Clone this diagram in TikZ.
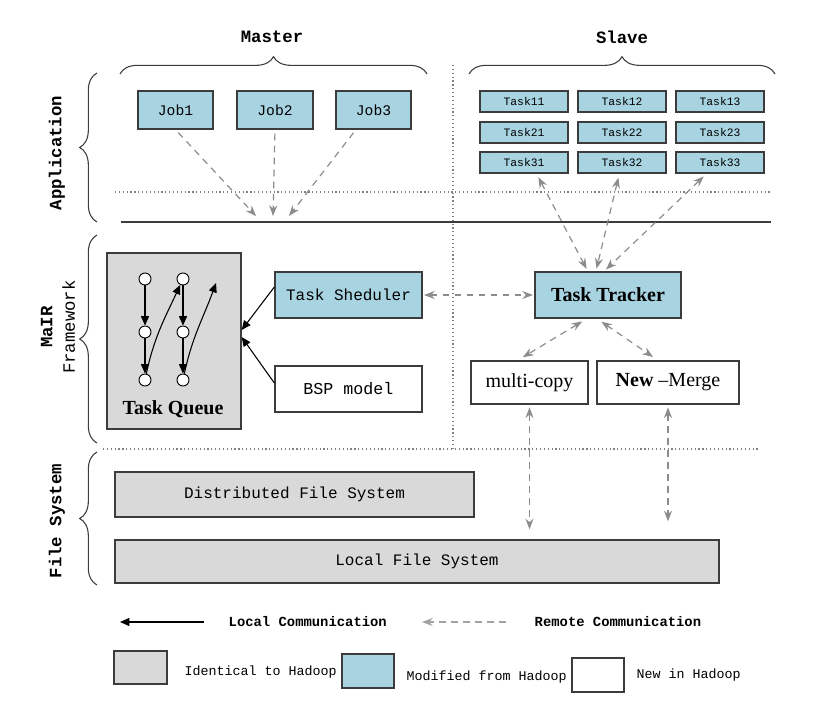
\documentclass[tikz,border=0pt]{standalone}
\usepackage{fontspec}
\setmainfont{Liberation Serif}
\setmonofont{Liberation Mono}
\usetikzlibrary{fit,calc,arrows.meta,decorations.pathreplacing}
\definecolor{ltblue}{RGB}{168,212,226}
\definecolor{ltgray}{RGB}{217,217,217}
\definecolor{edge}{RGB}{60,60,60}
\definecolor{rgray}{RGB}{140,140,140}
\begin{document}
\begin{tikzpicture}[x=0.75pt,y=-0.75pt,
  box/.style={draw=edge,line width=1pt,inner sep=0pt},
  bluebox/.style={box,fill=ltblue},
  graybox/.style={box,fill=ltgray},
  whitebox/.style={box,fill=white},
  mono/.style={font=\ttfamily\fontsize{#1}{#1}\selectfont},
  serif/.style={font=\rmfamily\fontsize{#1}{#1}\selectfont},
  remote/.style={draw=rgray,line width=0.9pt,dash pattern=on 5pt off 4pt,
     {Stealth[length=8pt,width=6pt]}-{Stealth[length=8pt,width=6pt]}},
  remoteone/.style={draw=rgray,line width=0.9pt,dash pattern=on 5pt off 4pt,
     -{Stealth[length=8pt,width=6pt]}},
  local/.style={draw=black,line width=0.8pt,-{Triangle[length=7pt,width=6pt]}},
  brc/.style={decorate,decoration={brace,amplitude=13pt},draw=edge,line width=0.8pt},
  sepline/.style={draw=gray,line width=0.9pt,dotted},
  circ/.style={circle,draw=black,fill=white,line width=0.7pt,minimum size=9pt,inner sep=0pt}]
\useasboundingbox (0,0) rectangle (816,721);

% headings and braces
\node[font=\ttfamily\bfseries\fontsize{13}{13}\selectfont] (master) at (272,37) {Master};
\node[font=\ttfamily\bfseries\fontsize{13}{13}\selectfont] (slave) at (622,37) {Slave};
\draw[brc] (120,74) -- (427,74);
\draw[brc] (469,74) -- (775,74);
\draw[brc] (97,222) -- (97,73);
\draw[brc] (97,443) -- (97,235);
\draw[brc] (97,585) -- (97,452);
\node[rotate=90,font=\ttfamily\bfseries\fontsize{13}{13}\selectfont] (app) at (57,153) {Application};
\node[rotate=90,align=center,font=\ttfamily\fontsize{13}{15}\selectfont] (fw) at (58,327) {\textbf{MaIR}\\[2pt]Framework};
\node[rotate=90,font=\ttfamily\bfseries\fontsize{13}{13}\selectfont] (fsys) at (57,521) {File System};

% separators
\draw[sepline] (453,65) -- (453,449);
\draw[sepline] (115,192) -- (771,192);
\draw[sepline] (103,449) -- (760,449);
\draw[draw=edge,line width=1.5pt] (121,222) -- (771,222);

% jobs
\node[bluebox,fit={(138,91)(213,129)},label={[mono=11]center:Job1}] (job1) {};
\node[bluebox,fit={(237,91)(313,129)},label={[mono=11]center:Job2}] (job2) {};
\node[bluebox,fit={(336,91)(411,129)},label={[mono=11]center:Job3}] (job3) {};

% tasks
\node[bluebox,fit={(480,91)(568,112)},label={[mono=8.5]center:Task11}] (t11) {};
\node[bluebox,fit={(578,91)(666,112)},label={[mono=8.5]center:Task12}] (t12) {};
\node[bluebox,fit={(676,91)(764,112)},label={[mono=8.5]center:Task13}] (t13) {};
\node[bluebox,fit={(480,122)(568,143)},label={[mono=8.5]center:Task21}] (t21) {};
\node[bluebox,fit={(578,122)(666,143)},label={[mono=8.5]center:Task22}] (t22) {};
\node[bluebox,fit={(676,122)(764,143)},label={[mono=8.5]center:Task23}] (t23) {};
\node[bluebox,fit={(480,152)(568,173)},label={[mono=8.5]center:Task31}] (t31) {};
\node[bluebox,fit={(578,152)(666,173)},label={[mono=8.5]center:Task32}] (t32) {};
\node[bluebox,fit={(676,152)(764,173)},label={[mono=8.5]center:Task33}] (t33) {};

% framework boxes
\node[graybox,fit={(107,253)(241,429)}] (tq) {};
\node[font=\rmfamily\bfseries\fontsize{15}{15}\selectfont] (tqlabel) at (173,409) {Task Queue};
\node[bluebox,fit={(275,272)(422,318)},label={[mono=12]center:Task Sheduler}] (ts) {};
\node[whitebox,fit={(275,366)(422,412)},label={[mono=12.5]center:BSP model}] (bsp) {};
\node[bluebox,fit={(535,272)(681,318)},label={[font=\rmfamily\bfseries\fontsize{15}{15}\selectfont]center:Task Tracker}] (tt) {};
\node[whitebox,fit={(471,361)(588,404)},label={[serif=15]center:multi-copy}] (mc) {};
\node[whitebox,fit={(597,361)(739,404)},label={[serif=15]center:{\textbf{New} --Merge}}] (nm) {};

% circles in the task queue
\node[circ] (c11) at (145,279) {};
\node[circ] (c12) at (145,332) {};
\node[circ] (c13) at (145,380) {};
\node[circ] (c21) at (183,279) {};
\node[circ] (c22) at (183,332) {};
\node[circ] (c23) at (183,380) {};
\coordinate (q) at (216,283);
\draw[local] (c11) -- (c12);
\draw[local] (c12) -- (c13);
\draw[local] (c21) -- (c22);
\draw[local] (c22) -- (c23);
\draw[local] (c13) to[out=78,in=245] (c21);
\draw[local] (c23) to[out=78,in=250] (q);

% file systems
\node[graybox,fit={(115,472)(474,517)},label={[mono=12]center:Distributed File System}] (dfs) {};
\node[graybox,fit={(115,540)(719,583)},label={[mono=12]center:Local File System}] (lfs) {};

% job arrows
\coordinate (b1) at (256,216);
\coordinate (b2) at (273,216);
\coordinate (b3) at (289,216);
\draw[remoteone,shorten <=3pt] (job1.south) -- (b1);
\draw[remoteone,shorten <=3pt] (job2.south) -- (b2);
\draw[remoteone,shorten <=3pt] ($(job3.south west)!0.27!(job3.south east)$) -- (b3);

% task <-> task tracker
\draw[remote,shorten <=3pt,shorten >=2pt] ($(t31.south west)!0.64!(t31.south east)$) -- ($(tt.north west)!0.363!(tt.north east)$);
\draw[remote,shorten <=3pt,shorten >=2pt] ($(t32.south west)!0.47!(t32.south east)$) -- ($(tt.north west)!0.418!(tt.north east)$);
\draw[remote,shorten <=3pt,shorten >=2pt] ($(t33.south west)!0.35!(t33.south east)$) -- ($(tt.north west)!0.473!(tt.north east)$);

% scheduler / tracker
\draw[remote,shorten <=1pt,shorten >=1pt] (ts.east) -- (tt.west);
\draw[local] ($(ts.west)+(0,-8)$) -- ($(tq.east)+(0,-11)$);
\draw[local] ($(bsp.west)+(0,-6)$) -- ($(tq.east)+(0,-4)$);

% tracker <-> multi-copy / new-merge
\draw[remote,shorten <=4pt,shorten >=4.5pt] ($(tt.south west)!0.356!(tt.south east)$) -- ($(mc.north west)!0.4!(mc.north east)$);
\draw[remote,shorten <=4pt,shorten >=4.5pt] ($(tt.south west)!0.425!(tt.south east)$) -- ($(nm.north west)!0.43!(nm.north east)$);

% to local file system
\draw[remote,shorten <=2pt,shorten >=7.5pt] (mc.south) -- (mc.south |- lfs.north);
\draw[remote,shorten <=2pt,shorten >=13.5pt] (nm.south) -- (nm.south |- lfs.north);

% legend
\coordinate (l1) at (204,622);
\coordinate (l0) at (120,622);
\draw[local,line width=1pt] (l1) -- (l0);
\node[anchor=west,font=\ttfamily\bfseries\fontsize{10.4}{10.4}\selectfont] (lc) at (224,622) {Local Communication};
\coordinate (r1) at (506,622);
\coordinate (r0) at (422,622);
\draw[remoteone,draw=rgray!80] (r1) -- (r0);
\node[anchor=west,font=\ttfamily\bfseries\fontsize{10.4}{10.4}\selectfont] (rc) at (530,622) {Remote Communication};

\node[graybox,fit={(114,651)(167,684)}] (lg1) {};
\node[anchor=west,mono=10] (lt1) at (180,672) {Identical to Hadoop};
\node[bluebox,fit={(342,654)(394,688)}] (lg2) {};
\node[anchor=west,mono=10] (lt2) at (402,677) {Modified from Hadoop};
\node[whitebox,fit={(572,658)(624,692)}] (lg3) {};
\node[anchor=west,mono=10] (lt3) at (632,675) {New in Hadoop};
\end{tikzpicture}
\end{document}
